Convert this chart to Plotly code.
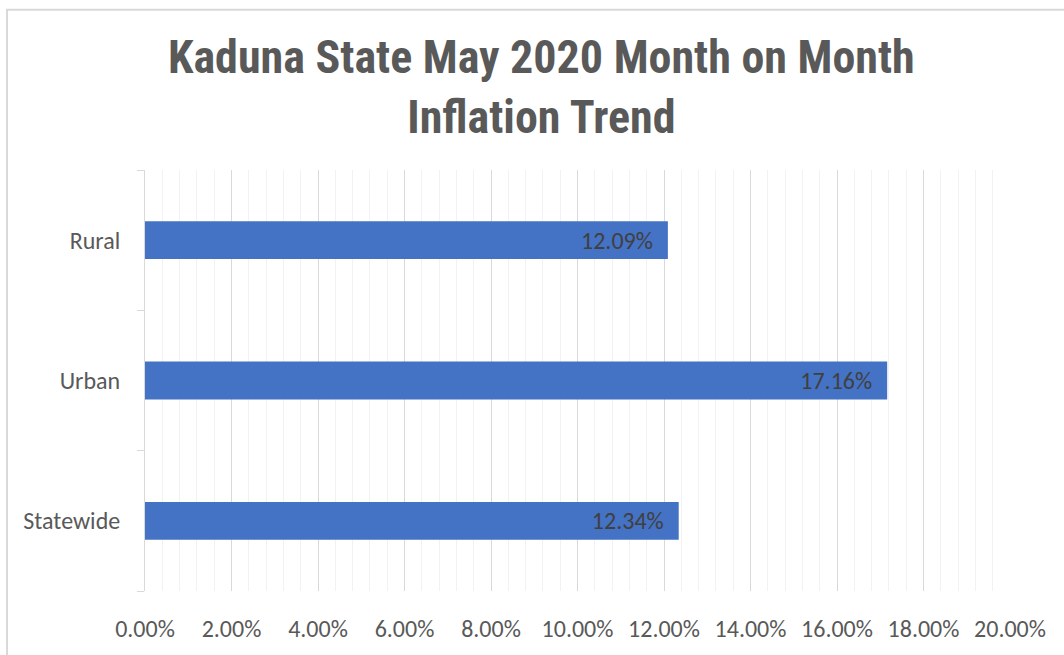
import plotly.graph_objects as go

categories = ["Rural", "Urban", "Statewide"]
values = [12.09, 17.16, 12.34]
x_ticks = [0, 2, 4, 6, 8, 10, 12, 14, 16, 18, 20]
x_tick_labels = [f"{t:.2f}%" for t in x_ticks]
title_text = "Kaduna State May 2020 Month on Month<br>Inflation Trend"

W, H = 1064, 655
L, R, T, B = 145, 1010, 170, 598
LABEL_FONT = "Carlito, Calibri, Lato, sans-serif"

fig = go.Figure(go.Bar(
    y=categories,
    x=values,
    orientation="h",
    marker=dict(color="#4472C4", line=dict(width=0)),
    width=0.27,
    text=[f"{v:.2f}%" for v in values],
    texttemplate="%{text}\u2002",
    textposition="inside",
    insidetextanchor="end",
    textfont=dict(family=LABEL_FONT, size=24, color="#404040"),
    cliponaxis=False,
))

fig.update_layout(
    width=W, height=H,
    margin=dict(l=L, r=W - R, t=T, b=H - B, pad=0),
    paper_bgcolor="white",
    plot_bgcolor="white",
    showlegend=False,
    xaxis=dict(
        range=[0, 20],
        tickvals=x_ticks,
        ticktext=x_tick_labels,
        showgrid=True, gridcolor="#d9d9d9", gridwidth=1,
        minor=dict(dtick=0.4, tick0=0, showgrid=True, gridcolor="#f2f2f2", gridwidth=1),
        zeroline=False,
        showline=False,
        ticks="",
        ticklabelstandoff=21,
        tickfont=dict(family=LABEL_FONT, size=24, color="#595959"),
        fixedrange=True,
    ),
    yaxis=dict(
        categoryorder="array",
        categoryarray=categories[::-1],
        showgrid=False,
        zeroline=False,
        showline=True, linecolor="#d9d9d9", linewidth=1,
        ticks="outside", tickson="boundaries", ticklen=7, tickcolor="#d9d9d9",
        ticklabelstandoff=19,
        tickfont=dict(family=LABEL_FONT, size=24, color="#595959"),
        fixedrange=True,
    ),
    annotations=[dict(
        text=title_text, showarrow=False,
        xref="paper", yref="paper",
        x=(541 - L) / (R - L), xanchor="center",
        y=(B - 26) / (B - T), yanchor="top",
        align="center",
        font=dict(family="Liberation Sans Narrow, Arial Narrow, Roboto Condensed, sans-serif",
                  size=46, color="#595959", weight="bold"),
    )],
    shapes=[dict(
        type="rect", xref="paper", yref="paper",
        x0=(7 - L) / (R - L), x1=(1075 - L) / (R - L),
        y0=(B - 670) / (B - T), y1=(B - 7) / (B - T),
        line=dict(color="#d9d9d9", width=2), fillcolor="rgba(0,0,0,0)",
        layer="below",
    )],
)

fig.write_html("out.html", config={"displayModeBar": False},
               post_script="document.body.style.margin='0';")
